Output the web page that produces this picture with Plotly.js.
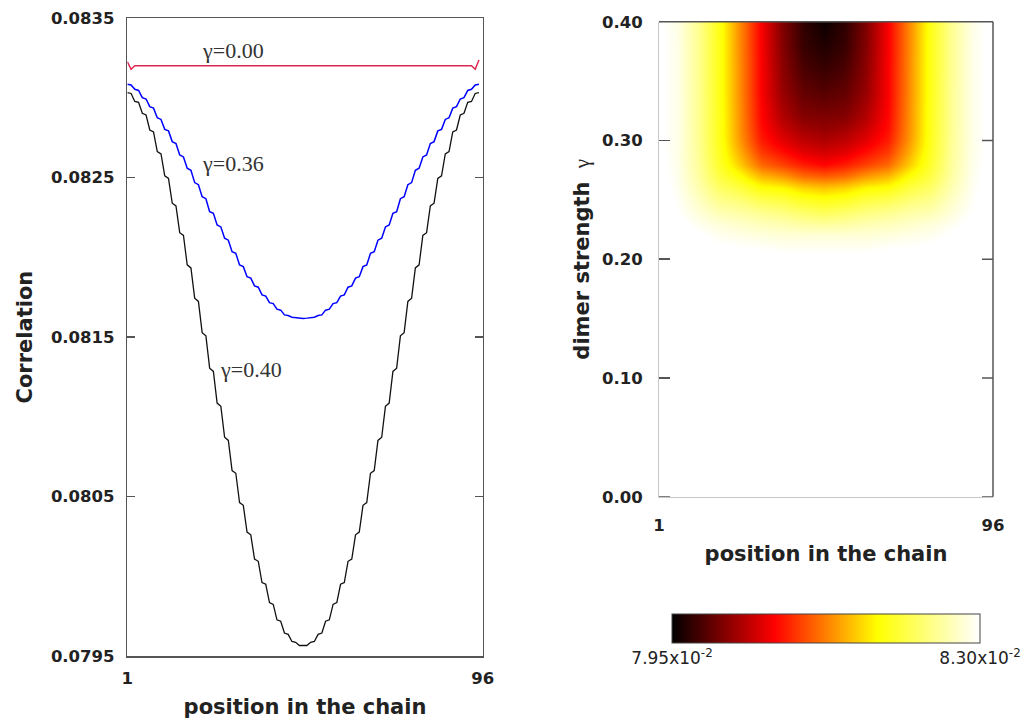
<!DOCTYPE html>
<html><head><meta charset="utf-8">
<script src="https://cdn.plot.ly/plotly-3.0.1.min.js"></script>
<style>html,body{margin:0;padding:0;background:#fff}#chart{width:1027px;height:722px}</style>
</head><body><div id="chart"></div>
<script>
// chain positions of the plotted correlation curves
const sites = [1,2,3,4,5,6,7,8,9,10,11,12,13,14,15,16,17,18,19,20,
21,22,23,24,25,26,27,28,29,30,31,32,33,34,35,36,37,38,39,40,
41,42,43,44,45,46,47,48,49,50,51,52,53,54,55,56,57,58,59,60,
61,62,63,64,65,66,67,68,69,70,71,72,73,74,75,76,77,78,79,80,
81,82,83,84,85,86,87,88,89,90,91,92,93,94,95];

// correlation, gamma = 0.00
const corrG000 = [0.083227,0.083180,0.083202,0.083202,0.083202,0.083202,0.083202,0.083202,0.083202,0.083202,
0.083202,0.083202,0.083202,0.083202,0.083202,0.083202,0.083202,0.083202,0.083202,0.083202,
0.083202,0.083202,0.083202,0.083202,0.083202,0.083202,0.083202,0.083202,0.083202,0.083202,
0.083202,0.083202,0.083202,0.083202,0.083202,0.083202,0.083202,0.083202,0.083202,0.083202,
0.083202,0.083202,0.083202,0.083202,0.083202,0.083202,0.083202,0.083202,0.083202,0.083202,
0.083202,0.083202,0.083202,0.083202,0.083202,0.083202,0.083202,0.083202,0.083202,0.083202,
0.083202,0.083202,0.083202,0.083202,0.083202,0.083202,0.083202,0.083202,0.083202,0.083202,
0.083202,0.083202,0.083202,0.083202,0.083202,0.083202,0.083202,0.083202,0.083202,0.083202,
0.083202,0.083202,0.083202,0.083202,0.083202,0.083202,0.083202,0.083202,0.083202,0.083202,
0.083202,0.083202,0.083202,0.083180,0.083238];

// correlation, gamma = 0.36
const corrG036 = [0.083086,0.083081,0.083054,0.083047,0.083002,0.082993,0.082945,0.082936,0.082876,0.082865,
0.082803,0.082793,0.082726,0.082714,0.082642,0.082630,0.082559,0.082546,0.082469,0.082456,
0.082381,0.082368,0.082287,0.082276,0.082203,0.082191,0.082120,0.082108,0.082036,0.082025,
0.081953,0.081942,0.081879,0.081870,0.081821,0.081813,0.081765,0.081757,0.081716,0.081710,
0.081675,0.081669,0.081639,0.081635,0.081625,0.081622,0.081619,0.081617,
0.081619,0.081622,0.081625,0.081635,0.081639,0.081669,0.081675,0.081710,0.081716,0.081757,
0.081765,0.081813,0.081821,0.081870,0.081879,0.081942,0.081953,0.082025,0.082036,0.082108,
0.082120,0.082191,0.082203,0.082276,0.082287,0.082368,0.082381,0.082456,0.082469,0.082546,
0.082559,0.082630,0.082642,0.082714,0.082726,0.082793,0.082803,0.082865,0.082876,0.082936,
0.082945,0.082993,0.083002,0.083047,0.083054,0.083081,0.083086];

// correlation, gamma = 0.40
const corrG040 = [0.083033,0.083028,0.082978,0.082972,0.082904,0.082893,0.082799,0.082787,0.082663,0.082649,
0.082511,0.082495,0.082340,0.082323,0.082155,0.082138,0.081953,0.081934,0.081744,0.081724,
0.081528,0.081508,0.081305,0.081285,0.081086,0.081066,0.080872,0.080852,0.080663,0.080646,
0.080462,0.080445,0.080277,0.080260,0.080108,0.080094,0.079961,0.079950,0.079835,0.079824,
0.079727,0.079718,0.079644,0.079636,0.079591,0.079586,0.079566,0.079564,
0.079566,0.079586,0.079591,0.079636,0.079644,0.079718,0.079727,0.079824,0.079835,0.079950,
0.079961,0.080094,0.080108,0.080260,0.080277,0.080445,0.080462,0.080646,0.080663,0.080852,
0.080872,0.081066,0.081086,0.081285,0.081305,0.081508,0.081528,0.081724,0.081744,0.081934,
0.081953,0.082138,0.082155,0.082323,0.082340,0.082495,0.082511,0.082649,0.082663,0.082787,
0.082799,0.082893,0.082904,0.082972,0.082978,0.083028,0.083033];

const curveLabels = ['\u03b3=0.00', '\u03b3=0.36', '\u03b3=0.40'];

// map: correlation vs position (columns) and dimer strength (rows)
const mapSites = [1,6,12,18,24,30,36,42,48,54,60,66,72,78,84,90,95];
const mapGamma = [0.00,0.20,0.22,0.23,0.24,0.25,0.26,0.27,0.28,0.29,0.30,0.31,0.32,0.34,0.36,0.38,0.40];
const zG000 = [0.08370,0.08370,0.08370,0.08370,0.08370,0.08370,0.08370,0.08370,0.08370,0.08370,0.08370,0.08370,0.08370,0.08370,0.08370,0.08370,0.08370];
const zG020 = [0.08335,0.08328,0.08321,0.08314,0.08311,0.08311,0.08307,0.08307,0.08307,0.08307,0.08307,0.08311,0.08311,0.08314,0.08321,0.08328,0.08335];
const zG022 = [0.08321,0.08314,0.08304,0.08293,0.08290,0.08286,0.08283,0.08283,0.08283,0.08283,0.08283,0.08286,0.08290,0.08293,0.08304,0.08314,0.08321];
const zG023 = [0.08318,0.08307,0.08293,0.08283,0.08276,0.08269,0.08265,0.08258,0.08255,0.08258,0.08265,0.08269,0.08276,0.08283,0.08293,0.08307,0.08318];
const zG024 = [0.08314,0.08300,0.08283,0.08265,0.08258,0.08248,0.08241,0.08230,0.08223,0.08230,0.08241,0.08248,0.08258,0.08265,0.08283,0.08300,0.08314];
const zG025 = [0.08311,0.08297,0.08274,0.08248,0.08237,0.08220,0.08213,0.08199,0.08192,0.08199,0.08213,0.08220,0.08237,0.08248,0.08274,0.08297,0.08311];
const zG026 = [0.08309,0.08294,0.08265,0.08230,0.08213,0.08188,0.08181,0.08164,0.08157,0.08164,0.08181,0.08188,0.08213,0.08230,0.08265,0.08294,0.08309];
const zG027 = [0.08307,0.08292,0.08258,0.08214,0.08185,0.08150,0.08136,0.08115,0.08108,0.08115,0.08136,0.08150,0.08185,0.08214,0.08258,0.08292,0.08307];
const zG028 = [0.08305,0.08291,0.08255,0.08204,0.08160,0.08115,0.08097,0.08080,0.08069,0.08080,0.08097,0.08115,0.08160,0.08204,0.08255,0.08291,0.08305];
const zG029 = [0.08304,0.08290,0.08253,0.08199,0.08146,0.08094,0.08074,0.08055,0.08048,0.08055,0.08074,0.08094,0.08146,0.08199,0.08253,0.08290,0.08304];
const zG030 = [0.08304,0.08290,0.08252,0.08196,0.08136,0.08080,0.08055,0.08038,0.08031,0.08038,0.08055,0.08080,0.08136,0.08196,0.08252,0.08290,0.08304];
const zG031 = [0.08304,0.08290,0.08251,0.08195,0.08133,0.08073,0.08043,0.08024,0.08018,0.08024,0.08043,0.08073,0.08133,0.08195,0.08251,0.08290,0.08304];
const zG032 = [0.08304,0.08290,0.08251,0.08195,0.08132,0.08069,0.08032,0.08011,0.08008,0.08011,0.08032,0.08069,0.08132,0.08195,0.08251,0.08290,0.08304];
const zG034 = [0.08304,0.08290,0.08251,0.08194,0.08130,0.08066,0.08020,0.07996,0.07990,0.07996,0.08020,0.08066,0.08130,0.08194,0.08251,0.08290,0.08304];
const zG036 = [0.08304,0.08290,0.08250,0.08194,0.08130,0.08066,0.08015,0.07985,0.07976,0.07985,0.08015,0.08066,0.08130,0.08194,0.08250,0.08290,0.08304];
const zG038 = [0.08304,0.08290,0.08250,0.08194,0.08129,0.08065,0.08011,0.07976,0.07964,0.07976,0.08011,0.08065,0.08129,0.08194,0.08250,0.08290,0.08304];
const zG040 = [0.08303,0.08289,0.08250,0.08193,0.08129,0.08065,0.08009,0.07972,0.07956,0.07972,0.08009,0.08065,0.08129,0.08193,0.08250,0.08289,0.08303];

// ticks
const corrTicks = [0.0795,0.0805,0.0815,0.0825,0.0835];
const posTicks = [1,96];
const gammaTicks = [0.00,0.10,0.20,0.30,0.40];
const cbTickVals = [0.0795,0.0830];
const cbTickText = ['7.95x10<sup>-2</sup>','8.30x10<sup>-2</sup>'];

const SANS = 'DejaVu Sans, Verdana, sans-serif';
const SERIF = 'Liberation Serif, Times New Roman, serif';
const FRAME = '#555555';
const TXT = '#222222';

const hot = [[0,'rgb(0,0,0)'],[1/3,'rgb(255,0,0)'],[2/3,'rgb(255,255,0)'],[1,'rgb(255,255,255)']];

const traces = [
  {type:'scatter', mode:'lines', x:sites, y:corrG000, line:{color:'#dc2850', width:1.5}, xaxis:'x', yaxis:'y', hoverinfo:'skip'},
  {type:'scatter', mode:'lines', x:sites, y:corrG036, line:{color:'#0000ff', width:1.5}, xaxis:'x', yaxis:'y', hoverinfo:'skip'},
  {type:'scatter', mode:'lines', x:sites, y:corrG040, line:{color:'#111111', width:1.3}, xaxis:'x', yaxis:'y', hoverinfo:'skip'},
  {type:'heatmap', x:mapSites, y:mapGamma,
   z:[zG000,zG020,zG022,zG023,zG024,zG025,zG026,zG027,zG028,zG029,zG030,zG031,zG032,zG034,zG036,zG038,zG040],
   xaxis:'x2', yaxis:'y2', zmin:0.0795, zmax:0.0830, zsmooth:'best', colorscale:hot,
   colorbar:{orientation:'h', x:0.8043, xanchor:'center', y:0.1496, yanchor:'top',
     len:0.2999, lenmode:'fraction', thickness:29, xpad:0, ypad:0,
     outlinewidth:1, outlinecolor:'#444', ticks:'',
     tickvals:cbTickVals, ticktext:cbTickText,
     tickfont:{family:SANS, size:17, color:TXT}}}
];

const tickFont = {family:SANS, size:16.5, weight:'bold', color:TXT};
const titleFont = {family:SANS, size:21, weight:'bold', color:TXT};

const axisCommon = {showgrid:false, zeroline:false, showline:true, linecolor:FRAME, linewidth:1.5,
  ticks:'inside', tickcolor:FRAME, tickwidth:1.5, mirror:'ticks', tickfont:tickFont};

const layout = {
  width:1027, height:722, autosize:false,
  margin:{l:0,r:0,t:0,b:0}, paper_bgcolor:'#fff', plot_bgcolor:'#fff', showlegend:false,
  xaxis:Object.assign({}, axisCommon, {domain:[0.1240,0.4700], range:[1,96], tickvals:posTicks, ticklen:0,
    ticklabelstandoff:7, anchor:'y',
    title:{text:'position in the chain', standoff:12, font:titleFont}}),
  yaxis:Object.assign({}, axisCommon, {domain:[0.0914,0.9748], range:[0.0795,0.0835], tickvals:corrTicks,
    tickformat:'.4f', ticklen:8, ticklabelstandoff:8, anchor:'x',
    title:{text:'Correlation', standoff:12, font:titleFont}}),
  xaxis2:Object.assign({}, axisCommon, {domain:[0.6417,0.9669], range:[1,96], tickvals:posTicks, ticklen:0,
    linecolor:'#c8c8c8', linewidth:1, mirror:false, ticklabelstandoff:13, anchor:'y2',
    title:{text:'position in the chain', standoff:12, font:titleFont}}),
  yaxis2:Object.assign({}, axisCommon, {domain:[0.3120,0.9699], range:[0,0.40], tickvals:gammaTicks,
    tickformat:'.2f', ticklen:11, linecolor:'#c8c8c8', linewidth:1, mirror:false, ticklabelstandoff:12, anchor:'x2',
    title:{text:'<b>dimer strength</b>\u00a0\u00a0<span style="font-family:Liberation Serif">\u03b3</span>', standoff:6,
      font:{family:SANS, size:21, weight:'normal', color:TXT}}}),
  shapes:[
    {type:'line', xref:'x2 domain', yref:'y2 domain', x0:0, x1:1, y0:1, y1:1, line:{color:FRAME, width:1.5}},
    {type:'line', xref:'x2 domain', yref:'y2 domain', x0:1, x1:1, y0:0, y1:1, line:{color:FRAME, width:1.5}},
    {type:'line', xref:'x2 domain', yref:'y2', x0:0, x1:0.033, y0:0, y1:0, line:{color:FRAME, width:1.5}},
    {type:'line', xref:'x2 domain', yref:'y2', x0:0.967, x1:1, y0:0.1, y1:0.1, line:{color:FRAME, width:1.5}},
    {type:'line', xref:'x2 domain', yref:'y2', x0:0.967, x1:1, y0:0.2, y1:0.2, line:{color:FRAME, width:1.5}},
    {type:'line', xref:'x2 domain', yref:'y2', x0:0.967, x1:1, y0:0.3, y1:0.3, line:{color:FRAME, width:1.5}},
    {type:'line', xref:'x2 domain', yref:'y2', x0:0.967, x1:1, y0:0.0, y1:0.0, line:{color:FRAME, width:1.5}}
  ],
  annotations:[
    {text:curveLabels[0], xref:'paper', yref:'paper', x:0.2264, y:0.9294, showarrow:false, xanchor:'center', yanchor:'middle',
     font:{family:SERIF, size:22, color:'#333'}},
    {text:curveLabels[1], xref:'paper', yref:'paper', x:0.2264, y:0.7742, showarrow:false, xanchor:'center', yanchor:'middle',
     font:{family:SERIF, size:22, color:'#333'}},
    {text:curveLabels[2], xref:'paper', yref:'paper', x:0.2444, y:0.4889, showarrow:false, xanchor:'center', yanchor:'middle',
     font:{family:SERIF, size:22, color:'#333'}}
  ]
};

Plotly.newPlot('chart', traces, layout, {staticPlot:true, displayModeBar:false});
</script>
</body></html>
